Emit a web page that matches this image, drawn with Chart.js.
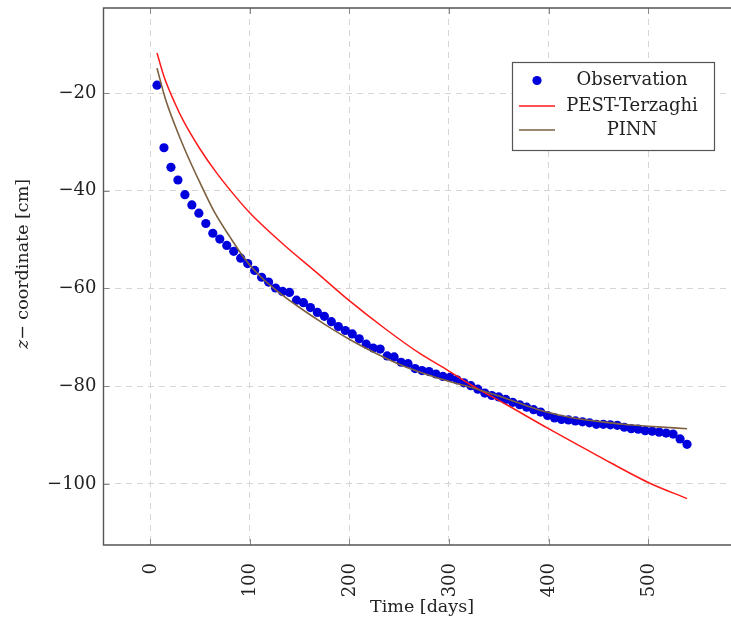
<!DOCTYPE html>
<html>
<head>
<meta charset="utf-8">
<script src="https://cdn.jsdelivr.net/npm/chart.js@4.4.1/dist/chart.umd.min.js"></script>
<style>
  html, body { margin: 0; padding: 0; background: #fff; overflow: hidden; }
  #wrap { width: 731px; height: 623px; }
</style>
</head>
<body>
<div id="wrap"><canvas id="settlement-chart" width="731" height="623"></canvas></div>
<script>
// observed settlement (every 7 days)
const obsDays = [7, 14, 21, 28, 35, 42, 49, 56, 63, 70, 77, 84, 91, 98, 105, 112, 119, 126, 133, 140,
  147, 154, 161, 168, 175, 182, 189, 196, 203, 210, 217, 224, 231, 238, 245, 252, 259, 266, 273, 280,
  287, 294, 301, 308, 315, 322, 329, 336, 343, 350, 357, 364, 371, 378, 385, 392, 399, 406, 413, 420,
  427, 434, 441, 448, 455, 462, 469, 476, 483, 490, 497, 504, 511, 518, 525, 532, 539];
const obsZ = [-18.4, -31.2, -35.2, -37.8, -40.8, -42.9, -44.6, -46.7, -48.7, -49.9,
  -51.2, -52.4, -53.8, -54.9, -56.3, -57.7, -58.7, -59.9, -60.6, -60.8,
  -62.4, -62.9, -63.9, -64.9, -65.7, -66.8, -67.8, -68.6, -69.3, -70.3,
  -71.4, -72.2, -72.4, -73.8, -74.0, -75.1, -75.4, -76.4, -76.8, -77.0,
  -77.5, -78.0, -78.2, -78.7, -79.3, -79.9, -80.6, -81.4, -81.9, -82.2,
  -82.7, -83.3, -83.8, -84.3, -84.8, -85.3, -86.0, -86.5, -86.8, -86.9,
  -87.1, -87.3, -87.5, -87.8, -87.8, -87.9, -88.0, -88.4, -88.7, -88.8,
  -89.1, -89.2, -89.4, -89.6, -89.8, -90.8, -91.9];

const pestDays = [7, 14, 25, 33, 50, 67, 85, 100, 134, 167, 200, 237, 270, 300, 321, 358, 400, 450, 500, 539];
const pestZ = [-11.8, -16.6, -22.1, -25.5, -31.4, -36.4, -41.0, -44.5, -51.0, -56.7,
  -62.5, -68.4, -73.2, -76.9, -79.6, -83.8, -88.7, -94.3, -99.7, -103.0];

const pinnDays = [7, 15, 25, 35, 50, 65, 80, 95, 110, 130, 150, 175, 200, 225, 250, 275, 300, 325, 350,
  375, 400, 425, 450, 475, 500, 539];
const pinnZ = [-14.9, -20.9, -26.6, -31.6, -38.3, -44.5, -49.4, -53.9, -57.4, -60.9, -63.9, -67.3, -70.4,
  -73.1, -75.5, -77.4, -79.0, -80.4, -82.0, -83.8, -85.4, -86.5, -87.2, -87.8, -88.2, -88.7];

const xTicks = [0, 100, 200, 300, 400, 500];
const yTicks = [-100, -80, -60, -40, -20];
const seriesNames = ['Observation', 'PEST-Terzaghi', 'PINN'];
const seriesColors = ['#0000dd', '#ff1a1a', '#7d6040'];

const serif = '"DejaVu Serif", "Liberation Serif", serif';
const textColor = '#222';

const toPoints = (xs, ys) => xs.map((x, i) => ({ x: x, y: ys[i] }));
const minus = v => String(v).replace('-', '\u2212');

// frame, inner ticks, x tick labels, axis titles and the boxed legend
const decorPlugin = {
  id: 'decor',
  afterDraw(chart) {
    const { ctx, chartArea: a, scales } = chart;
    ctx.save();

    ctx.strokeStyle = '#8a8a8a';
    ctx.lineWidth = 1;
    ctx.beginPath();
    xTicks.forEach(v => {
      const px = Math.round(scales.x.getPixelForValue(v)) + 0.5;
      ctx.moveTo(px, a.bottom); ctx.lineTo(px, a.bottom - 6);
      ctx.moveTo(px, a.top); ctx.lineTo(px, a.top + 6);
    });
    yTicks.forEach(v => {
      const py = Math.round(scales.y.getPixelForValue(v)) + 0.5;
      ctx.moveTo(a.left, py); ctx.lineTo(a.left + 6, py);
    });
    ctx.stroke();

    // the plot box is cut off on the right, so no right edge
    ctx.strokeStyle = '#555';
    ctx.lineWidth = 1.4;
    ctx.beginPath();
    ctx.moveTo(chart.width, a.top);
    ctx.lineTo(a.left, a.top);
    ctx.lineTo(a.left, a.bottom);
    ctx.lineTo(chart.width, a.bottom);
    ctx.stroke();

    ctx.fillStyle = textColor;

    // rotated x tick labels, read bottom to top
    ctx.font = '18px ' + serif;
    ctx.textAlign = 'right';
    ctx.textBaseline = 'middle';
    xTicks.forEach(v => {
      ctx.save();
      ctx.translate(scales.x.getPixelForValue(v), a.bottom + 18);
      ctx.rotate(-Math.PI / 2);
      ctx.fillText(minus(v), 0, 1);
      ctx.restore();
    });

    // axis titles
    ctx.textAlign = 'center';
    ctx.font = '17.5px ' + serif;
    ctx.fillText('Time [days]', scales.x.getPixelForValue(273), 607);

    ctx.save();
    ctx.translate(23, 264);
    ctx.rotate(-Math.PI / 2);
    ctx.textAlign = 'left';
    const rest = '\u2212 coordinate [cm]';
    ctx.font = 'italic 17.5px ' + serif;
    const wz = ctx.measureText('z').width;
    ctx.font = '17.5px ' + serif;
    const wr = ctx.measureText(rest).width;
    const x0 = -(wz + wr) / 2;
    ctx.font = 'italic 17.5px ' + serif;
    ctx.fillText('z', x0, 0);
    ctx.font = '17.5px ' + serif;
    ctx.fillText(rest, x0 + wz, 0);
    ctx.restore();

    // legend
    const bx = 512.5, by = 62.5, bw = 202, bh = 88;
    ctx.fillStyle = '#fff';
    ctx.fillRect(bx, by, bw, bh);
    ctx.strokeStyle = '#555';
    ctx.lineWidth = 1.2;
    ctx.strokeRect(bx, by, bw, bh);
    const rows = [80.5, 106, 130];
    rows.forEach((ry, i) => {
      if (i === 0) {
        ctx.fillStyle = seriesColors[0];
        ctx.beginPath();
        ctx.arc(537, ry, 4.6, 0, Math.PI * 2);
        ctx.fill();
      } else {
        ctx.strokeStyle = seriesColors[i];
        ctx.lineWidth = 1.6;
        ctx.beginPath();
        ctx.moveTo(519, ry); ctx.lineTo(555, ry);
        ctx.stroke();
      }
      ctx.fillStyle = textColor;
      ctx.textAlign = 'center';
      ctx.font = '18px ' + serif;
      ctx.fillText(seriesNames[i], 632, ry);
    });

    ctx.restore();
  }
};

const ctx = document.getElementById('settlement-chart').getContext('2d');
const chart = new Chart(ctx, {
  type: 'scatter',
  data: {
    datasets: [
      {
        label: seriesNames[0],
        data: toPoints(obsDays, obsZ),
        backgroundColor: seriesColors[0],
        borderColor: seriesColors[0],
        pointRadius: 4.6,
        pointBorderWidth: 0,
        showLine: false,
        order: 3
      },
      {
        label: seriesNames[1],
        data: toPoints(pestDays, pestZ),
        borderColor: seriesColors[1],
        borderWidth: 1.5,
        pointRadius: 0,
        showLine: true,
        cubicInterpolationMode: 'monotone',
        order: 2
      },
      {
        label: seriesNames[2],
        data: toPoints(pinnDays, pinnZ),
        borderColor: seriesColors[2],
        borderWidth: 1.6,
        pointRadius: 0,
        showLine: true,
        cubicInterpolationMode: 'monotone',
        order: 1
      }
    ]
  },
  options: {
    responsive: false,
    animation: false,
    layout: { padding: { top: 8, right: 0, left: 0, bottom: 0 } },
    plugins: {
      legend: { display: false },
      tooltip: { enabled: false }
    },
    scales: {
      x: {
        type: 'linear',
        min: -46.7,
        max: 578.5,
        afterBuildTicks: s => { s.ticks = xTicks.map(v => ({ value: v })); },
        afterFit: s => { s.height = 78; s.paddingLeft = 0; s.paddingRight = 0; },
        ticks: { display: false },
        grid: { color: '#d6d6d6', lineWidth: 1, drawTicks: false },
        border: { display: false, dash: [6, 5] }
      },
      y: {
        type: 'linear',
        min: -112.5,
        max: -2.6,
        afterBuildTicks: s => { s.ticks = yTicks.map(v => ({ value: v })); },
        afterFit: s => { s.width = 103.5; s.paddingTop = 0; s.paddingBottom = 0; },
        ticks: {
          padding: 7,
          color: textColor,
          font: { family: serif, size: 18 },
          callback: v => minus(v)
        },
        grid: { color: '#d6d6d6', lineWidth: 1, drawTicks: false },
        border: { display: false, dash: [6, 5] }
      }
    }
  },
  plugins: [decorPlugin]
});
</script>
</body>
</html>
